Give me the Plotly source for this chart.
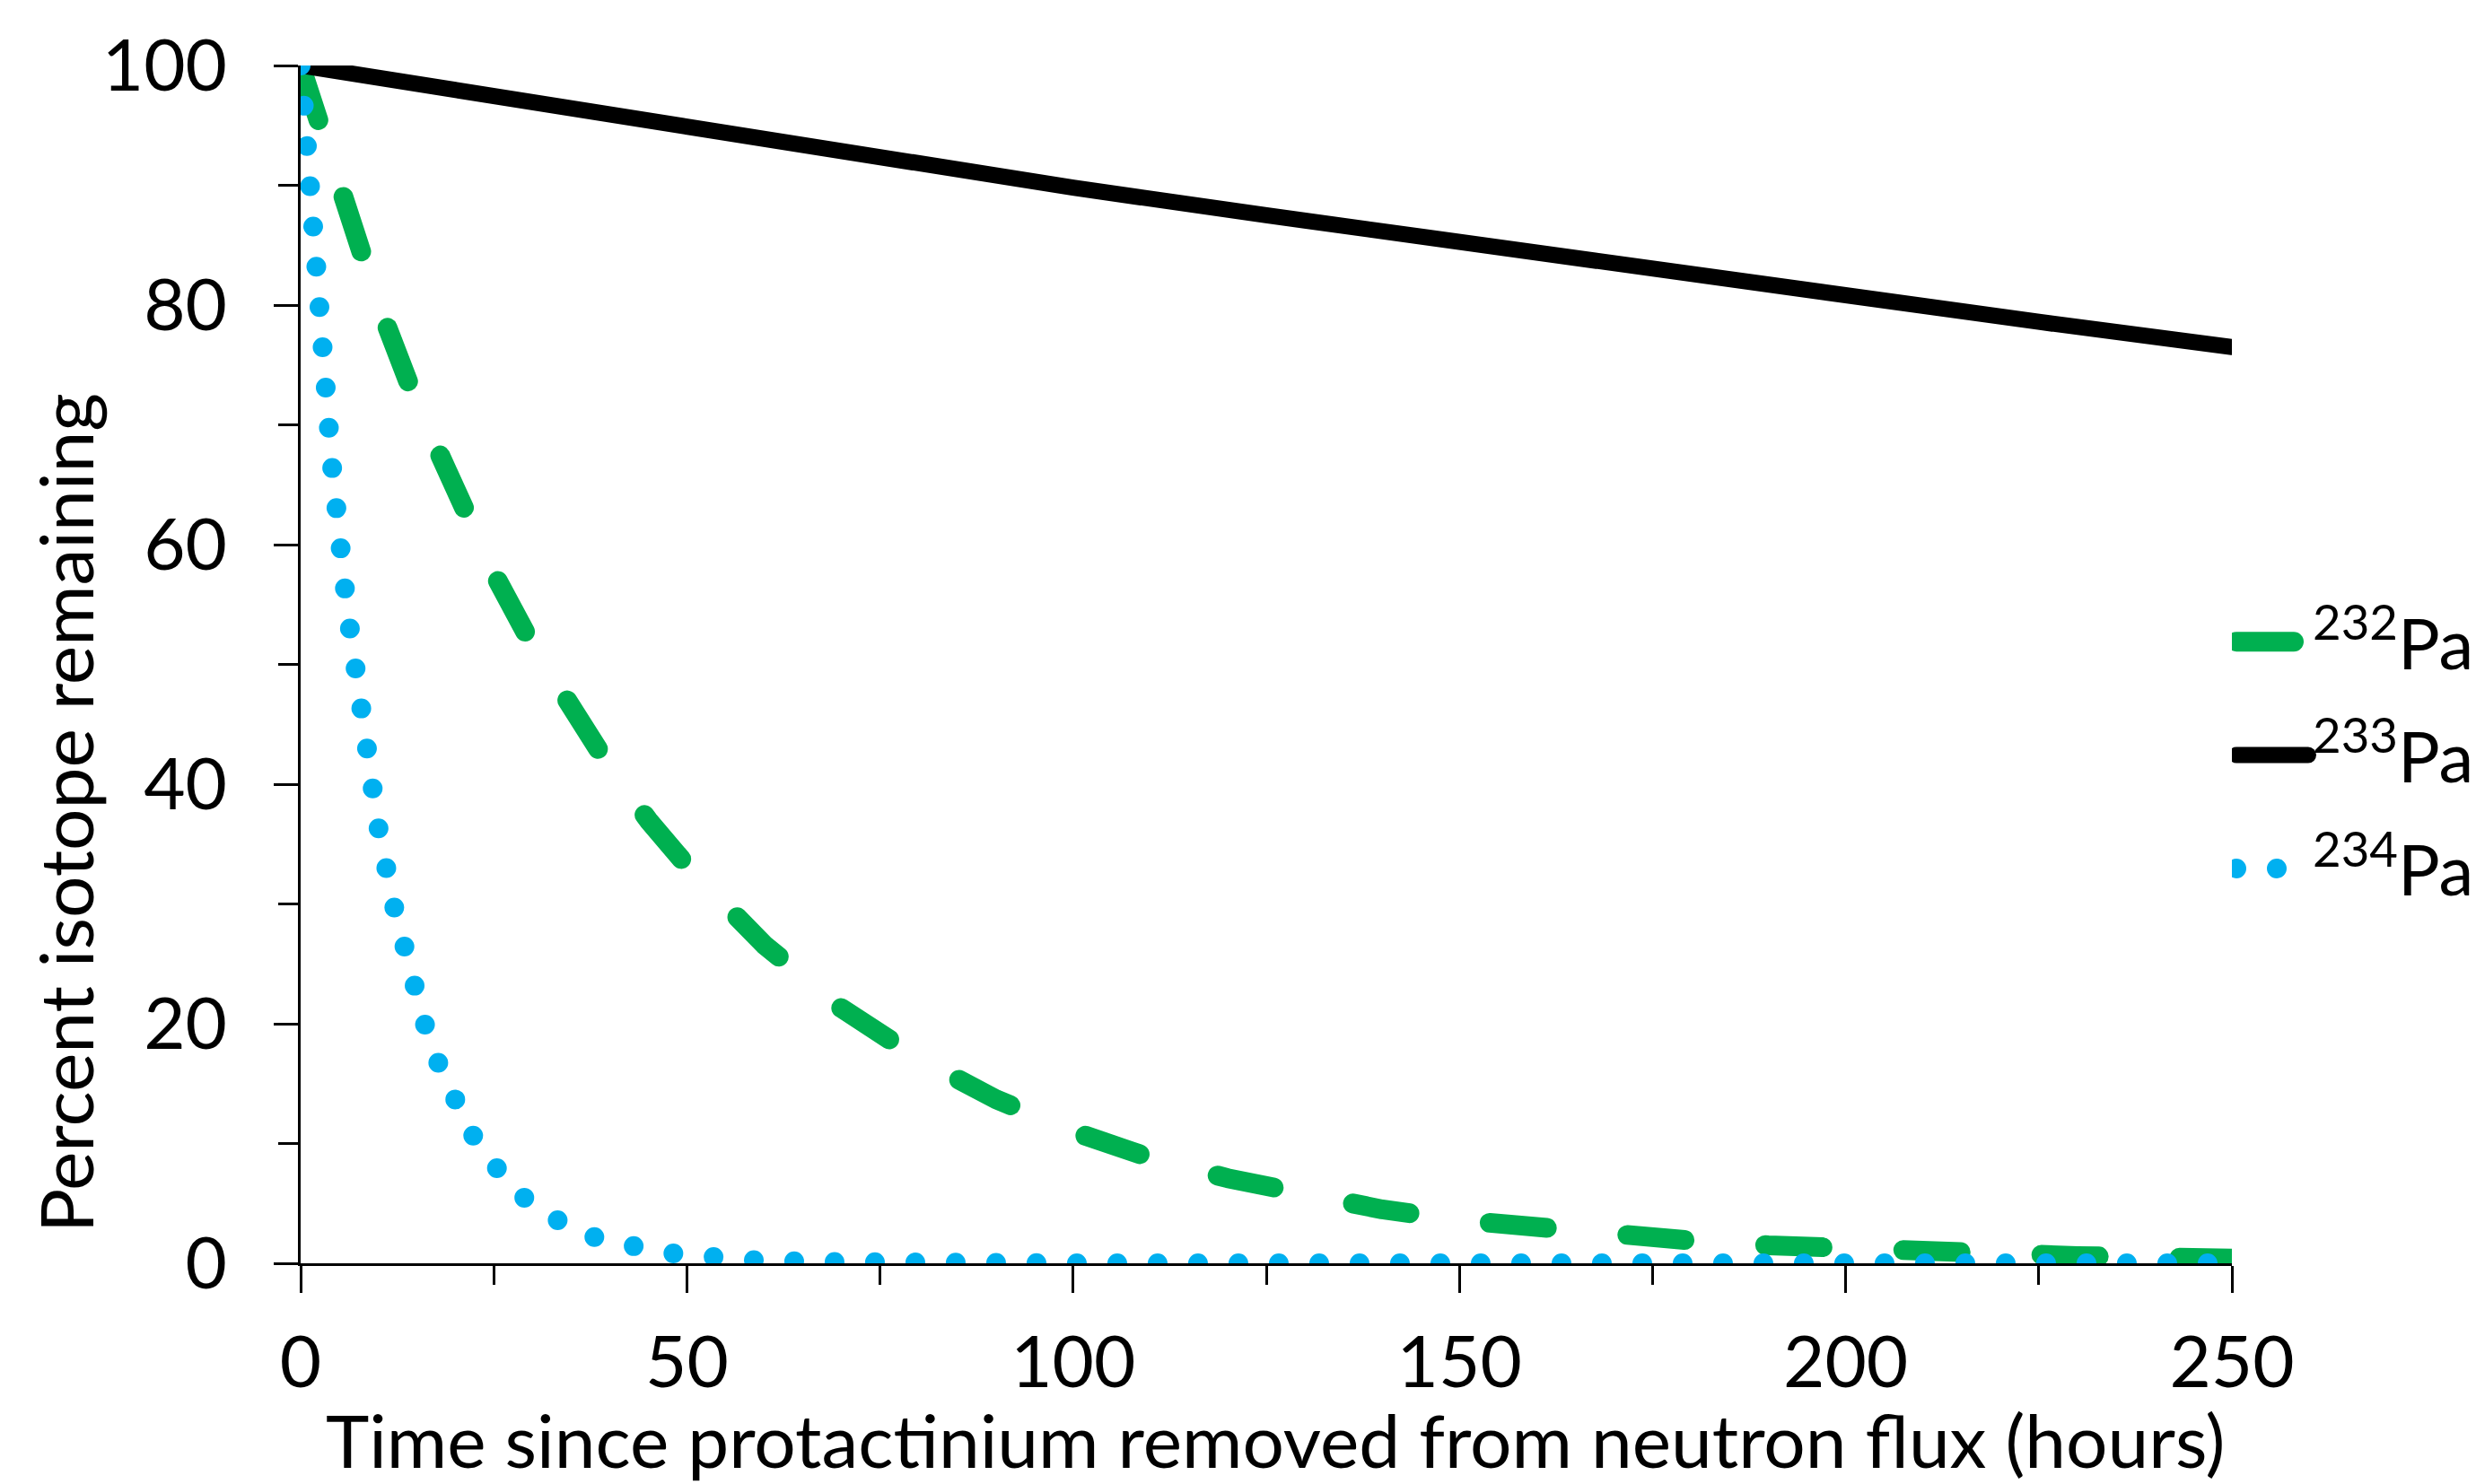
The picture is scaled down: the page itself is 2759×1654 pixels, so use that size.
import plotly.graph_objects as go

# ---- data ----
hours_232 = [0, 5, 10, 15, 20, 25, 30, 35, 40, 45, 50, 60, 70, 80, 90, 100, 110, 120,
             130, 140, 150, 160, 170, 180, 190, 200, 210, 220, 230, 240, 250]
pct_232 = [100, 89.5, 80.2, 71.8, 64.3, 57.6, 51.6, 46.2, 41.4, 37.0, 33.2, 26.6, 21.3,
           17.1, 13.7, 11.0, 8.8, 7.1, 5.7, 4.5, 3.6, 2.9, 2.4, 1.9, 1.5, 1.2, 1.0, 0.8,
           0.6, 0.5, 0.4]

hours_233 = [0, 25, 50, 75, 100, 125, 150, 175, 200, 225, 250]
pct_233 = [100, 97.4, 94.8, 92.3, 89.8, 87.5, 85.2, 82.9, 80.7, 78.6, 76.5]

hours_234 = [0, 2, 4, 6, 8, 10, 12, 14, 16, 18, 20, 22, 24, 26, 28, 30, 34, 38, 42, 46,
             50, 55, 60, 70, 80, 100, 150, 200, 250]
pct_234 = [100, 81.8, 66.9, 54.7, 44.8, 36.6, 30.0, 24.5, 20.1, 16.4, 13.4, 11.0, 9.0,
           7.4, 6.0, 4.9, 3.3, 2.2, 1.5, 1.0, 0.7, 0.4, 0.2, 0.1, 0, 0, 0, 0, 0]

series_names = ["<sup>232</sup>Pa", "<sup>233</sup>Pa", "<sup>234</sup>Pa"]
x_title = "Time since protactinium removed from neutron flux (hours)"
y_title = "Percent isotope remaining"

FONT = "Lato"
W, H = 2759, 1654
ML, MR, MT, MB = 335, 272, 73, 246
PW, PH = W - ML - MR, H - MT - MB

fig = go.Figure()
fig.add_trace(go.Scatter(x=hours_232, y=pct_232, mode="lines", name=series_names[0],
                         legendgroup="g1",
                         line=dict(color="#00B050", width=22, dash="64px,90px")))
fig.add_trace(go.Scatter(x=hours_233, y=pct_233, mode="lines", name=series_names[1],
                         legendgroup="g2",
                         line=dict(color="#000000", width=18)))
fig.add_trace(go.Scatter(x=hours_234, y=pct_234, mode="lines", name=series_names[2],
                         legendgroup="g3",
                         line=dict(color="#00B0F0", width=22, dash="0px,45px")))

common = dict(showgrid=False, zeroline=False, tickcolor="black", tickwidth=3)

fig.update_layout(
    width=W, height=H,
    margin=dict(l=ML, r=MR, t=MT, b=MB, autoexpand=False),
    plot_bgcolor="white", paper_bgcolor="white",
    font=dict(family=FONT, size=80, color="black"),
    xaxis=dict(range=[0, 250], tickmode="linear", tick0=0, dtick=50,
               ticks="outside", ticklen=30, showline=True, linecolor="black",
               linewidth=3, tickfont=dict(size=80), ticklabelstandoff=9,
               minor=dict(tick0=0, dtick=25, ticks="outside", ticklen=21,
                          tickwidth=3, tickcolor="black", showgrid=False),
               **common),
    xaxis2=dict(range=[0, 250], overlaying="x", anchor="y", side="bottom",
                tickmode="linear", tick0=0, dtick=50, ticks="inside", ticklen=30,
                showticklabels=False, showline=False,
                minor=dict(tick0=0, dtick=25, ticks="inside", ticklen=21,
                           tickwidth=3, tickcolor="black", showgrid=False),
                **common),
    yaxis=dict(range=[0, 100], tickmode="linear", tick0=0, dtick=20,
               ticks="outside", ticklen=27, showline=True, linecolor="black",
               linewidth=3, tickfont=dict(size=80), ticklabelstandoff=36,
               minor=dict(tick0=0, dtick=10, ticks="outside", ticklen=22,
                          tickwidth=3, tickcolor="black", showgrid=False),
               **common),
    yaxis2=dict(range=[0, 100], overlaying="y", anchor="x", side="left",
                tickmode="linear", tick0=0, dtick=20, ticks="inside", ticklen=27,
                showticklabels=False, showline=False,
                minor=dict(tick0=0, dtick=10, ticks="inside", ticklen=22,
                           tickwidth=3, tickcolor="black", showgrid=False),
                **common),
    legend=dict(x=1.0, xanchor="left", y=0.424, yanchor="middle",
                font=dict(family=FONT, size=78, color="black"),
                itemwidth=80, tracegroupgap=22, bgcolor="rgba(0,0,0,0)",
                traceorder="grouped"),
    showlegend=True,
)

fig.add_annotation(text=x_title, xref="paper", yref="paper",
                   x=(1421 - ML) / PW, y=(H - MB - 1604) / PH,
                   xanchor="center", yanchor="middle", showarrow=False,
                   font=dict(family=FONT, size=82, color="black"))
fig.add_annotation(text=y_title, xref="paper", yref="paper",
                   x=(72 - ML) / PW, y=(H - MB - 906) / PH, textangle=-90,
                   xanchor="center", yanchor="middle", showarrow=False,
                   font=dict(family=FONT, size=82, color="black"))

post = """
document.body.style.margin = '0';
document.body.style.overflow = 'hidden';
var gd = document.getElementById('{plot_id}');
var legendWidths = [22, 18, 22];
function roundCaps() {
  gd.querySelectorAll('.scatterlayer .js-line').forEach(function(p) {
    p.style.strokeLinecap = 'round';
    p.style.strokeLinejoin = 'round';
  });
  gd.querySelectorAll('.legend .traces').forEach(function(t, i) {
    t.querySelectorAll('.legendlines path').forEach(function(p) {
      p.style.strokeLinecap = 'round';
      if (legendWidths[i]) { p.style.strokeWidth = legendWidths[i] + 'px'; }
    });
  });
}
roundCaps();
gd.on('plotly_afterplot', roundCaps);
"""

fig.write_html("out.html", post_script=post, config={"displayModeBar": False})
